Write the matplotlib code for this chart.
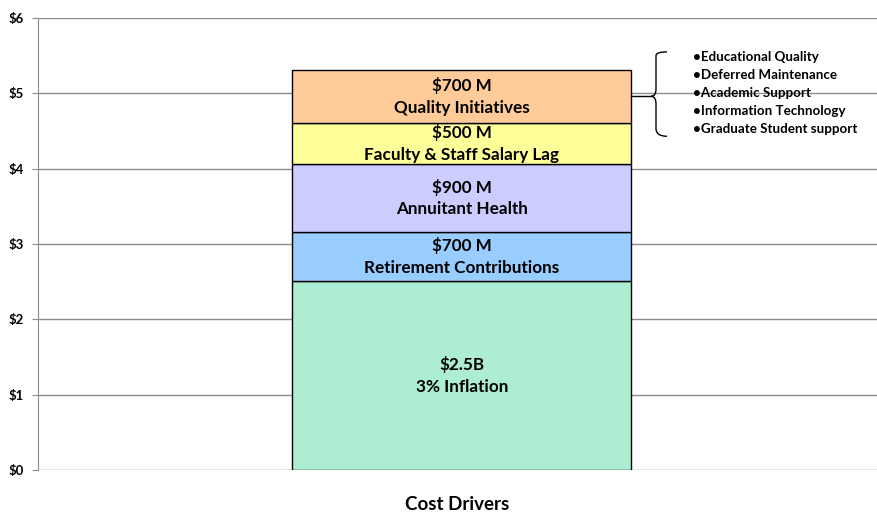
import matplotlib
matplotlib.use("Agg")
import matplotlib.pyplot as plt
from matplotlib.path import Path
from matplotlib.patches import PathPatch

# segment data, bottom to top ($ billions)
segment_values = [2.51, 0.65, 0.90, 0.55, 0.70]
segment_amounts = ["$2.5B", "$700 M", "$900 M", "$500 M", "$700 M"]
segment_names = ["3% Inflation", "Retirement Contributions", "Annuitant Health",
                 "Faculty & Staff Salary Lag", "Quality Initiatives"]
segment_colors = ["#ADEED3", "#99CCFF", "#CCCCFF", "#FFFF99", "#FFCC99"]
y_ticks = [0, 1, 2, 3, 4, 5, 6]
y_tick_labels = ["$0", "$1", "$2", "$3", "$4", "$5", "$6"]
quality_items = ["Educational Quality", "Deferred Maintenance", "Academic Support",
                 "Information Technology", "Graduate Student support"]

plt.rcParams["font.family"] = ["Lato", "DejaVu Sans"]

fig = plt.figure(figsize=(8.77, 5.14), dpi=100)
ax = fig.add_axes([38 / 877, 1 - 470 / 514, 839 / 877, 452 / 514])

bottom = 0.0
for val, amt, name, col in zip(segment_values, segment_amounts, segment_names, segment_colors):
    ax.bar(0, val, bottom=bottom, width=0.404, color=col, edgecolor="black",
           linewidth=1.0, zorder=3)
    ax.text(0, bottom + val / 2, f"{amt}\n{name}", ha="center", va="center",
            fontsize=12.3, fontweight="bold", linespacing=1.45, zorder=4)
    bottom += val

ax.set_xlim(-0.505, 0.495)
ax.set_ylim(0, 6)
ax.set_yticks(y_ticks)
ax.set_yticklabels(y_tick_labels, fontsize=9.5, fontweight="bold")
ax.set_xticks([])
ax.grid(axis="y", color="#8c8c8c", linewidth=1.0, zorder=0)
for s in ["top", "right", "bottom"]:
    ax.spines[s].set_visible(False)
ax.spines["left"].set_color("#8c8c8c")
ax.tick_params(axis="y", length=4, color="#8c8c8c", pad=6)

ax.set_xlabel("Cost Drivers", fontsize=13.5, fontweight="bold", labelpad=19)

# brace for quality initiatives, in axes-x / data-y
tr = ax.get_yaxis_transform()
def px(x):
    return (x - 38) / 839

top_y, bot_y, mid_y = 5.55, 4.43, 4.96
xr = px(667)
xl = px(656)
xm = px(651)
verts = [
    (xr, top_y), (xl, top_y), (xl, top_y - 0.05), (xl, top_y - 0.1),
    (xl, mid_y + 0.1), (xl, mid_y), (xm, mid_y),
    (xl, mid_y), (xl, mid_y - 0.1),
    (xl, bot_y + 0.1), (xl, bot_y), (xr, bot_y),
]
codes = [Path.MOVETO, Path.CURVE3, Path.CURVE3, Path.LINETO,
         Path.LINETO, Path.CURVE3, Path.CURVE3,
         Path.CURVE3, Path.CURVE3,
         Path.LINETO, Path.CURVE3, Path.CURVE3]
ax.add_patch(PathPatch(Path(verts, codes), transform=tr, fill=False,
                       edgecolor="black", linewidth=1.0, clip_on=False, zorder=5))
ax.plot([px(631), xm], [mid_y, mid_y], transform=tr, color="black",
        linewidth=1.0, clip_on=False, zorder=5)

for i, item in enumerate(quality_items):
    fig.text(693 / 877, 1 - (57 + 18 * i) / 514, "\u2022" + item, ha="left",
             va="center", fontsize=9.6, fontweight="bold")

fig.savefig("out.png", dpi=100)
